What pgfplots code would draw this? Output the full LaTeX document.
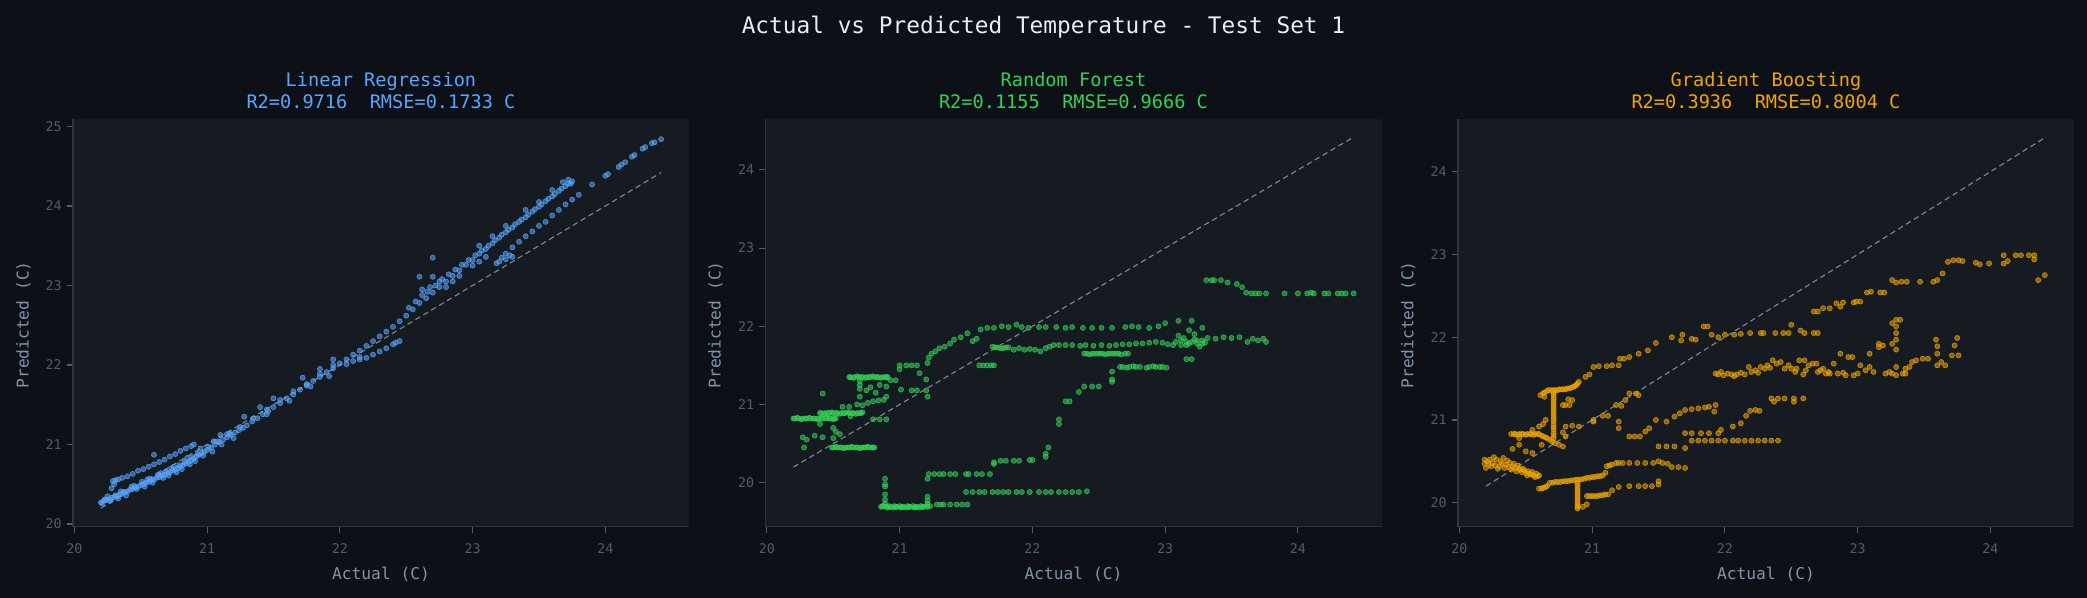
\documentclass[border=0pt]{standalone}
\usepackage{fontspec}
\usepackage{pgfplots}
\usepackage{pgfplotstable}
\pgfplotsset{compat=1.18}
\newfontfamily\dmono{DejaVu Sans Mono}

\definecolor{figbg}{HTML}{0D1117}
\definecolor{axbg}{HTML}{161B22}
\definecolor{spine}{HTML}{30363D}
\definecolor{tickc}{HTML}{4E5D6C}
\definecolor{labc}{HTML}{7F94A8}
\definecolor{titlec}{HTML}{E6EDF3}
\definecolor{lrc}{HTML}{58A6FF}
\definecolor{rfc}{HTML}{34D058}
\definecolor{gbc}{HTML}{F0A500}
\definecolor{diagc}{HTML}{8B949E}

% Linear Regression
\pgfplotstableread{
x y
20.20 20.27
20.22 20.29
20.24 20.30
20.26 20.31
20.28 20.33
20.30 20.34
20.32 20.35
20.34 20.37
20.36 20.38
20.38 20.40
20.40 20.41
20.42 20.43
20.44 20.44
20.46 20.46
20.48 20.47
20.50 20.49
20.52 20.50
20.54 20.52
20.56 20.53
20.58 20.55
20.60 20.56
20.62 20.58
20.64 20.59
20.66 20.61
20.68 20.62
20.70 20.64
20.72 20.65
20.74 20.67
20.76 20.68
20.78 20.70
20.80 20.72
20.82 20.74
20.84 20.76
20.86 20.78
20.88 20.80
20.90 20.82
20.92 20.85
20.94 20.87
20.96 20.89
20.98 20.91
21.00 20.93
21.03 20.96
21.06 21.00
21.09 21.03
21.12 21.06
21.15 21.09
21.18 21.12
21.21 21.15
21.24 21.18
21.27 21.21
21.30 21.24
21.34 21.29
21.38 21.33
21.42 21.38
21.46 21.42
21.50 21.47
21.55 21.52
21.60 21.58
21.65 21.63
21.70 21.69
21.75 21.74
21.80 21.80
21.85 21.85
21.90 21.91
21.95 21.96
22.00 22.02
22.05 22.07
22.10 22.13
22.15 22.18
22.20 22.24
22.25 22.30
22.30 22.36
22.35 22.42
22.40 22.48
22.45 22.55
22.50 22.62
22.55 22.70
22.60 22.78
22.65 22.84
22.70 22.91
22.75 22.98
22.80 23.05
22.85 23.12
22.90 23.19
22.95 23.26
23.00 23.32
23.05 23.40
23.10 23.46
23.15 23.53
23.20 23.60
23.25 23.67
23.30 23.73
23.35 23.80
23.40 23.86
23.45 23.93
23.50 23.99
23.55 24.06
23.60 24.12
23.65 24.19
23.70 24.25
23.75 24.31
20.21 20.26
20.23 20.31
20.27 20.29
20.31 20.36
20.33 20.32
20.37 20.40
20.39 20.36
20.43 20.47
20.47 20.44
20.51 20.53
20.53 20.47
20.57 20.57
20.59 20.52
20.63 20.62
20.67 20.58
20.69 20.66
20.71 20.61
20.73 20.70
20.77 20.65
20.79 20.74
20.81 20.69
20.83 20.78
20.87 20.75
20.89 20.84
20.91 20.79
20.93 20.88
20.97 20.86
21.01 20.97
21.04 20.91
21.08 21.04
21.11 21.00
21.17 21.14
21.20 21.08
20.25 20.35
20.35 20.41
20.45 20.48
20.55 20.56
20.65 20.64
20.75 20.72
20.85 20.83
20.95 20.95
21.05 21.04
21.15 21.13
21.25 21.22
21.35 21.33
21.45 21.44
21.55 21.56
21.65 21.67
21.75 21.76
21.85 21.89
21.95 22.00
21.45 21.38
21.62 21.55
21.78 21.73
21.92 21.86
22.05 22.01
22.15 22.10
20.29 20.54
20.31 20.55
20.33 20.56
20.36 20.58
20.40 20.60
20.44 20.63
20.48 20.67
20.52 20.69
20.56 20.72
20.60 20.75
20.64 20.78
20.68 20.81
20.72 20.85
20.76 20.88
20.80 20.92
20.84 20.95
20.88 20.98
20.90 21.00
20.28 20.45
20.30 20.50
20.60 20.87
21.10 21.12
21.28 21.35
21.40 21.47
21.50 21.58
21.72 21.84
21.85 21.95
21.95 22.07
22.10 22.05
22.15 22.07
22.20 22.09
22.25 22.13
22.30 22.17
22.35 22.21
22.40 22.26
22.42 22.28
22.45 22.30
22.52 22.72
22.57 22.80
22.62 22.88
22.66 22.92
22.72 23.00
22.77 23.08
22.82 23.14
22.87 23.20
22.92 23.26
22.97 23.32
23.02 23.38
23.07 23.44
23.12 23.50
23.17 23.57
23.22 23.64
23.27 23.70
23.32 23.77
23.37 23.83
23.42 23.89
23.47 23.96
23.52 24.02
23.57 24.09
23.62 24.15
23.67 24.22
23.72 24.28
23.25 23.33
23.28 23.38
23.18 23.28
23.30 23.36
22.60 23.11
22.70 23.11
22.70 23.35
22.62 22.95
22.68 22.98
22.75 23.05
22.80 22.98
22.85 23.05
22.90 23.12
23.00 23.25
23.05 23.30
23.10 23.36
23.20 23.30
23.22 23.35
23.25 23.40
23.30 23.48
23.35 23.55
23.40 23.62
23.45 23.68
23.50 23.75
23.55 23.80
23.60 23.88
23.65 23.95
23.70 24.02
23.75 24.08
23.80 24.14
23.05 23.50
23.15 23.62
23.25 23.75
23.40 23.95
23.50 24.05
23.60 24.20
23.68 24.30
23.72 24.33
23.74 24.28
23.90 24.27
24.00 24.38
24.02 24.40
24.10 24.49
24.12 24.52
24.15 24.55
24.20 24.62
24.22 24.64
24.28 24.72
24.30 24.74
24.35 24.79
24.37 24.80
24.42 24.84
}\lrdata

% Random Forest
\pgfplotstableread{
x y
20.20 20.82
20.21 20.82
20.23 20.83
20.24 20.82
20.26 20.81
20.27 20.82
20.29 20.82
20.30 20.82
20.32 20.83
20.33 20.82
20.35 20.82
20.36 20.82
20.38 20.81
20.39 20.82
20.41 20.82
20.42 20.82
20.44 20.83
20.45 20.82
20.47 20.82
20.48 20.82
20.50 20.81
20.51 20.82
20.52 20.82
20.40 20.89
20.41 20.89
20.43 20.88
20.44 20.89
20.46 20.89
20.47 20.89
20.49 20.90
20.50 20.89
20.52 20.89
20.53 20.89
20.55 20.88
20.56 20.89
20.58 20.89
20.59 20.89
20.61 20.90
20.62 20.89
20.64 20.89
20.65 20.89
20.67 20.88
20.68 20.89
20.70 20.89
20.71 20.89
20.72 20.90
20.49 20.45
20.50 20.45
20.52 20.46
20.53 20.45
20.55 20.45
20.56 20.45
20.58 20.44
20.59 20.45
20.61 20.45
20.62 20.45
20.64 20.46
20.65 20.45
20.67 20.45
20.68 20.45
20.70 20.44
20.71 20.45
20.73 20.45
20.74 20.45
20.76 20.46
20.77 20.45
20.79 20.45
20.80 20.45
20.81 20.45
20.62 21.35
20.63 21.35
20.65 21.34
20.66 21.35
20.68 21.36
20.69 21.35
20.71 21.35
20.72 21.35
20.74 21.34
20.75 21.35
20.77 21.35
20.78 21.35
20.80 21.36
20.81 21.35
20.83 21.35
20.84 21.35
20.86 21.34
20.87 21.35
20.89 21.35
20.90 21.35
20.91 21.35
20.70 21.30
20.70 21.25
20.70 21.20
20.70 21.10
20.27 20.58
20.30 20.55
20.36 20.60
20.42 20.58
20.50 20.57
20.55 20.62
20.28 20.45
20.40 20.75
20.50 20.70
20.52 20.65
20.68 21.00
20.72 20.99
20.76 21.02
20.80 21.04
20.84 21.05
20.88 21.06
20.90 21.10
20.75 21.18
20.78 21.22
20.85 21.25
20.90 21.23
20.82 21.15
20.57 20.97
20.62 20.97
20.42 21.14
20.63 20.85
20.80 20.81
20.85 20.81
20.90 20.81
20.93 21.31
20.97 21.31
21.00 21.45
21.00 21.50
21.05 21.50
21.09 21.50
21.13 21.50
21.01 21.19
21.09 21.18
21.13 21.18
21.20 21.18
21.21 21.10
21.20 21.32
21.15 21.40
21.21 21.53
21.22 21.60
21.24 21.65
21.27 21.68
21.30 21.72
21.34 21.74
21.38 21.78
21.41 21.83
21.46 21.86
21.51 21.91
21.55 21.81
21.58 21.84
21.61 21.96
21.66 21.98
21.71 21.98
21.77 22.00
21.82 21.99
21.88 22.02
21.92 21.99
21.97 21.98
22.05 21.99
22.10 21.99
22.18 21.99
22.25 21.98
22.30 21.99
22.38 21.98
22.45 21.98
22.52 21.98
22.60 21.98
22.70 21.99
22.75 22.00
22.80 21.99
22.88 21.98
22.95 22.00
23.00 22.04
23.10 22.07
23.20 22.07
23.28 21.98
21.60 21.50
21.63 21.50
21.66 21.50
21.69 21.50
21.71 21.50
21.70 21.74
21.72 21.73
21.74 21.73
21.76 21.72
21.78 21.72
21.80 21.73
21.82 21.73
21.86 21.70
21.90 21.72
21.94 21.70
21.98 21.71
22.02 21.70
22.06 21.68
22.10 21.72
22.13 21.74
22.16 21.76
22.20 21.76
22.25 21.76
22.30 21.76
22.36 21.75
22.40 21.76
22.46 21.75
22.52 21.76
22.58 21.75
22.63 21.76
22.68 21.77
22.73 21.77
22.78 21.78
22.83 21.78
22.88 21.79
22.93 21.80
22.98 21.79
23.02 21.77
23.08 21.80
23.12 21.82
23.16 21.76
23.20 21.80
23.24 21.78
23.28 21.82
23.32 21.85
23.38 21.84
23.44 21.86
23.50 21.85
23.56 21.86
23.62 21.80
23.66 21.84
23.70 21.82
23.74 21.84
23.76 21.80
23.10 21.88
23.14 21.85
23.18 21.78
23.22 21.90
23.26 21.74
23.30 21.79
23.18 21.95
23.06 21.76
23.22 21.83
23.12 21.76
23.16 21.80
23.24 21.82
23.28 21.78
22.39 21.65
22.41 21.65
22.43 21.64
22.45 21.65
22.47 21.65
22.49 21.65
22.51 21.65
22.53 21.65
22.55 21.64
22.57 21.65
22.59 21.65
22.61 21.65
22.63 21.65
22.65 21.65
22.67 21.64
22.70 21.65
22.72 21.65
22.66 21.48
22.68 21.48
22.71 21.47
22.73 21.48
22.76 21.49
22.78 21.48
22.81 21.48
22.86 21.47
22.88 21.48
22.91 21.49
22.93 21.48
22.96 21.48
22.98 21.48
23.01 21.47
22.60 21.42
22.60 21.29
22.60 21.32
23.16 21.58
23.20 21.58
22.39 21.23
22.45 21.23
22.50 21.23
22.35 21.16
22.25 21.04
22.28 21.04
22.20 20.81
22.20 20.75
22.12 20.45
22.10 20.33
22.10 20.37
22.00 20.29
21.98 20.29
21.90 20.28
21.86 20.28
21.80 20.28
21.76 20.28
21.71 20.26
21.71 20.24
21.21 20.05
21.22 20.11
21.26 20.11
21.30 20.11
21.33 20.11
21.38 20.11
21.42 20.11
21.50 20.11
21.52 20.11
21.58 20.11
21.62 20.11
21.68 20.11
21.50 19.88
21.55 19.88
21.60 19.88
21.64 19.88
21.70 19.88
21.74 19.88
21.78 19.88
21.82 19.88
21.88 19.88
21.92 19.88
21.98 19.88
22.05 19.88
22.10 19.88
22.14 19.88
22.20 19.88
22.25 19.88
22.30 19.88
22.35 19.88
22.41 19.89
20.86 19.69
20.87 19.70
20.88 19.70
20.90 19.69
20.91 19.68
20.92 19.70
20.93 19.69
20.95 19.68
20.96 19.70
20.97 19.69
20.98 19.69
21.00 19.70
21.01 19.68
21.02 19.69
21.03 19.69
21.05 19.68
21.06 19.70
21.07 19.69
21.08 19.69
21.10 19.70
21.11 19.68
21.12 19.69
21.13 19.69
21.15 19.68
21.16 19.70
21.17 19.69
21.18 19.69
21.20 19.70
21.21 19.69
21.23 19.70
21.28 19.72
21.31 19.72
21.33 19.72
21.38 19.72
21.43 19.72
21.47 19.72
21.51 19.72
20.89 20.05
20.89 19.98
20.89 19.95
20.89 19.85
20.89 19.78
20.89 19.73
21.21 19.82
21.21 19.77
21.21 19.73
23.31 22.59
23.35 22.59
23.37 22.59
23.42 22.59
23.47 22.56
23.54 22.54
23.58 22.50
23.61 22.43
23.65 22.42
23.68 22.42
23.71 22.42
23.76 22.42
23.90 22.42
24.00 22.42
24.07 22.42
24.10 22.43
24.12 22.42
24.20 22.42
24.23 22.42
24.30 22.42
24.33 22.42
24.36 22.42
24.42 22.42
}\rfdata

% Gradient Boosting
\pgfplotstableread{
x y
20.19 20.52
20.19 20.47
20.20 20.42
20.21 20.50
20.22 20.46
20.23 20.52
20.24 20.44
20.25 20.48
20.26 20.55
20.27 20.45
20.28 20.52
20.29 20.41
20.30 20.44
20.31 20.50
20.32 20.47
20.33 20.54
20.34 20.42
20.35 20.46
20.36 20.51
20.37 20.43
20.38 20.48
20.39 20.40
20.40 20.44
20.41 20.47
20.42 20.42
20.43 20.38
20.44 20.45
20.45 20.41
20.46 20.40
20.47 20.37
20.48 20.41
20.49 20.39
20.50 20.36
20.51 20.33
20.52 20.38
20.53 20.35
20.54 20.34
20.55 20.37
20.56 20.33
20.57 20.31
20.58 20.35
20.59 20.32
20.60 20.33
20.39 20.83
20.41 20.83
20.42 20.83
20.44 20.82
20.45 20.83
20.47 20.83
20.48 20.83
20.50 20.82
20.51 20.83
20.53 20.83
20.54 20.83
20.56 20.82
20.57 20.83
20.59 20.83
20.60 20.83
20.62 20.81
20.63 20.80
20.65 20.79
20.66 20.78
20.68 20.76
20.70 20.74
20.72 20.72
20.40 20.65
20.45 20.70
20.50 20.62
20.55 20.60
20.60 20.92
20.63 20.95
20.65 21.00
20.55 20.88
20.45 20.78
20.62 20.70
20.75 20.70
20.78 20.68
20.80 20.80
20.78 20.85
20.71 20.78
20.71 20.81
20.71 20.84
20.71 20.88
20.71 20.91
20.71 20.94
20.71 20.98
20.71 21.01
20.71 21.04
20.71 21.07
20.71 21.10
20.71 21.13
20.71 21.16
20.71 21.19
20.71 21.22
20.71 21.25
20.71 21.28
20.71 21.31
20.71 21.33
20.61 21.30
20.63 21.32
20.64 21.33
20.66 21.35
20.67 21.36
20.69 21.36
20.71 21.36
20.72 21.36
20.74 21.36
20.75 21.37
20.77 21.37
20.78 21.37
20.80 21.37
20.81 21.38
20.83 21.38
20.84 21.39
20.86 21.40
20.87 21.41
20.88 21.42
20.89 21.44
20.90 21.46
20.64 21.28
20.78 21.18
20.80 21.18
20.83 21.18
20.85 21.24
20.82 21.25
20.60 20.17
20.62 20.17
20.63 20.18
20.65 20.19
20.66 20.20
20.68 20.24
20.70 20.24
20.72 20.25
20.74 20.25
20.76 20.25
20.78 20.26
20.80 20.26
20.82 20.26
20.84 20.27
20.86 20.27
20.88 20.28
20.90 20.28
20.92 20.28
20.94 20.29
20.96 20.30
20.98 20.30
21.00 20.31
21.02 20.31
21.04 20.32
21.06 20.32
21.08 20.33
21.10 20.36
20.89 20.24
20.89 20.21
20.89 20.18
20.89 20.15
20.89 20.12
20.89 20.09
20.89 20.06
20.89 20.03
20.89 20.00
20.89 19.97
20.89 19.95
20.89 19.93
20.93 19.95
20.96 19.98
20.96 20.08
20.98 20.08
21.00 20.08
21.02 20.08
21.04 20.08
21.06 20.09
21.08 20.09
21.10 20.10
21.12 20.10
21.15 20.15
21.20 20.19
21.28 20.20
21.35 20.20
21.40 20.20
21.45 20.20
21.50 20.22
21.50 20.26
21.11 20.44
21.13 20.45
21.15 20.46
21.18 20.48
21.20 20.48
21.23 20.48
21.28 20.48
21.34 20.48
21.40 20.48
21.46 20.48
21.50 20.50
21.53 20.48
21.57 20.47
21.60 20.43
21.65 20.43
21.70 20.42
21.28 20.80
21.32 20.80
21.36 20.80
21.40 20.86
21.43 20.90
21.50 20.68
21.56 20.68
21.62 20.68
21.70 20.66
21.70 20.84
21.75 20.84
21.82 20.84
21.88 20.84
21.95 20.84
21.97 20.88
21.75 20.75
21.80 20.75
21.85 20.75
21.90 20.75
21.95 20.75
22.00 20.75
22.06 20.75
22.10 20.75
22.15 20.75
22.20 20.75
22.25 20.75
22.30 20.75
22.35 20.75
22.40 20.75
21.48 21.00
21.56 20.98
21.62 21.04
21.66 21.08
21.70 21.12
21.75 21.13
21.80 21.14
21.85 21.15
21.88 21.16
21.93 21.18
21.92 21.10
22.06 20.92
22.12 20.96
22.16 21.05
22.19 21.11
22.23 21.12
22.26 21.11
22.35 21.26
22.37 21.22
22.40 21.26
22.45 21.26
22.52 21.26
22.59 21.26
22.52 21.22
20.80 20.92
20.85 20.93
20.90 20.92
21.01 20.98
21.01 21.00
21.08 21.05
21.12 21.05
21.20 20.98
21.20 20.90
21.18 21.18
21.22 21.17
21.25 21.24
21.28 21.32
21.33 21.32
21.35 21.30
20.95 21.52
20.98 21.55
21.01 21.64
21.05 21.65
21.11 21.65
21.15 21.66
21.20 21.66
21.21 21.74
21.24 21.74
21.28 21.76
21.35 21.80
21.42 21.84
21.48 21.93
21.60 22.00
21.67 21.96
21.68 22.03
21.75 21.98
21.78 21.97
21.84 22.13
21.87 22.13
21.90 22.03
21.95 22.00
22.00 22.03
22.07 22.03
22.12 22.04
22.19 22.05
22.27 22.05
22.29 22.05
22.38 22.05
22.44 22.05
22.48 22.05
22.50 22.15
22.57 22.08
22.60 22.05
22.67 22.05
22.70 22.05
22.67 22.31
22.70 22.31
22.74 22.35
22.79 22.35
22.84 22.41
22.87 22.37
22.89 22.42
22.97 22.42
22.99 22.43
23.02 22.43
23.07 22.54
23.10 22.55
23.17 22.54
23.20 22.54
23.26 22.69
23.29 22.66
23.33 22.67
23.37 22.67
23.47 22.67
23.57 22.67
23.60 22.69
23.64 22.77
23.68 22.91
23.72 22.93
23.76 22.93
23.79 22.92
23.89 22.90
23.92 22.88
23.99 22.89
24.10 22.99
24.10 22.89
24.13 22.92
24.19 22.99
24.23 22.99
24.29 22.99
24.33 22.94
24.33 22.99
24.36 22.69
24.41 22.75
21.93 21.56
21.95 21.55
21.97 21.58
21.99 21.54
22.02 21.56
22.05 21.55
22.07 21.53
22.09 21.55
22.12 21.57
22.15 21.55
22.18 21.64
22.20 21.58
22.23 21.60
22.25 21.57
22.27 21.64
22.30 21.62
22.32 21.66
22.34 21.63
22.36 21.72
22.39 21.68
22.42 21.70
22.45 21.62
22.48 21.66
22.50 21.62
22.53 21.58
22.54 21.62
22.56 21.72
22.59 21.55
22.60 21.72
22.61 21.60
22.63 21.66
22.66 21.68
22.69 21.68
22.70 21.58
22.72 21.60
22.74 21.62
22.76 21.56
22.78 21.58
22.79 21.56
22.82 21.68
22.85 21.56
22.87 21.80
22.89 21.57
22.91 21.54
22.93 21.76
22.96 21.76
22.97 21.54
23.00 21.56
23.02 21.66
23.06 21.60
23.09 21.64
23.09 21.80
23.12 21.58
23.16 21.88
23.16 21.92
23.19 21.90
23.21 21.56
23.24 21.58
23.26 21.92
23.26 21.56
23.26 22.17
23.29 21.85
23.29 22.21
23.29 22.13
23.29 22.05
23.29 21.97
23.29 21.64
23.29 21.54
23.32 22.21
23.34 21.56
23.36 21.56
23.36 21.62
23.39 21.64
23.41 21.70
23.44 21.72
23.49 21.74
23.53 21.74
23.59 21.97
23.60 21.89
23.60 21.80
23.60 21.66
23.63 21.70
23.66 21.66
23.71 21.78
23.73 21.90
23.75 21.99
23.76 21.78
}\gbdata

\pgfplotsset{
  panel/.style={
    scale only axis, width=443.5pt, height=293.3pt,
    axis background/.style={fill=axbg},
    axis x line=bottom, axis y line=left,
    axis line style={-, draw=spine, line width=1pt},
    xmin=19.99, xmax=24.63, xtick={20,21,22,23,24},
    tick align=outside, major tick length=4.6pt,
    every tick/.style={draw=tickc, line width=0.8pt},
    tick label style={font=\dmono\fontsize{9.6}{10}\selectfont, text=tickc},
    /pgf/number format/assume math mode=true,
    xticklabel style={anchor=base, yshift=-15pt},
    yticklabel style={anchor=east},
  },
  pts/.style={only marks, mark=*, mark size=1.85pt,
    mark options={draw=#1, fill=#1, draw opacity=0.75, fill opacity=0.55, line width=0.45pt}},
  diag/.style={no marks, draw=diagc, opacity=0.85, line width=0.85pt, dash pattern=on 4pt off 2.6pt},
}

\begin{document}
\begin{tikzpicture}
\fill[figbg] (0pt,0pt) rectangle (1502.64pt,430.56pt);

\begin{axis}[panel, at={(52.56pt,51.34pt)}, anchor=south west,
  ymin=19.966, ymax=25.09, ytick={20,21,22,23,24,25}]
\addplot[diag] coordinates {(20.2,20.2) (24.42,24.42)};
\addplot[pts=lrc] table[x=x, y=y] {\lrdata};
\end{axis}

\begin{axis}[panel, at={(551.2pt,51.34pt)}, anchor=south west,
  ymin=19.437, ymax=24.647, ytick={20,21,22,23,24}]
\addplot[diag] coordinates {(20.2,20.2) (24.42,24.42)};
\addplot[pts=rfc] table[x=x, y=y] {\rfdata};
\end{axis}

\begin{axis}[panel, at={(1049.8pt,51.34pt)}, anchor=south west,
  ymin=19.71, ymax=24.633, ytick={20,21,22,23,24}]
\addplot[diag] coordinates {(20.2,20.2) (24.42,24.42)};
\addplot[pts=gbc] table[x=x, y=y] {\gbdata};
\end{axis}

% titles and labels
\node[anchor=base, text=titlec, font=\dmono\fontsize{16.4}{18}\selectfont]
  at (751.3pt,406.6pt) {Actual vs Predicted Temperature - Test Set 1};

\foreach \cx/\col/\name/\stats in {
  274.3/lrc/Linear Regression/R2=0.9716~~RMSE=0.1733~C,
  772.9/rfc/Random Forest/R2=0.1155~~RMSE=0.9666~C,
  1271.5/gbc/Gradient Boosting/R2=0.3936~~RMSE=0.8004~C} {
  \node[anchor=base, text=\col, font=\dmono\fontsize{13.4}{15}\selectfont]
    at (\cx pt,368.6pt) {\name};
  \node[anchor=base, text=\col, font=\dmono\fontsize{13.4}{15}\selectfont]
    at (\cx pt,352.6pt) {\stats};
  \node[anchor=base, text=labc, font=\dmono\fontsize{11.7}{13}\selectfont]
    at (\cx pt,12.96pt) {Actual (C)};
}
\foreach \lx in {20.7, 518.9, 1017.6} {
  \node[anchor=base, rotate=90, text=labc, font=\dmono\fontsize{11.7}{13}\selectfont]
    at (\lx pt,196.6pt) {Predicted (C)};
}
\end{tikzpicture}
\end{document}
